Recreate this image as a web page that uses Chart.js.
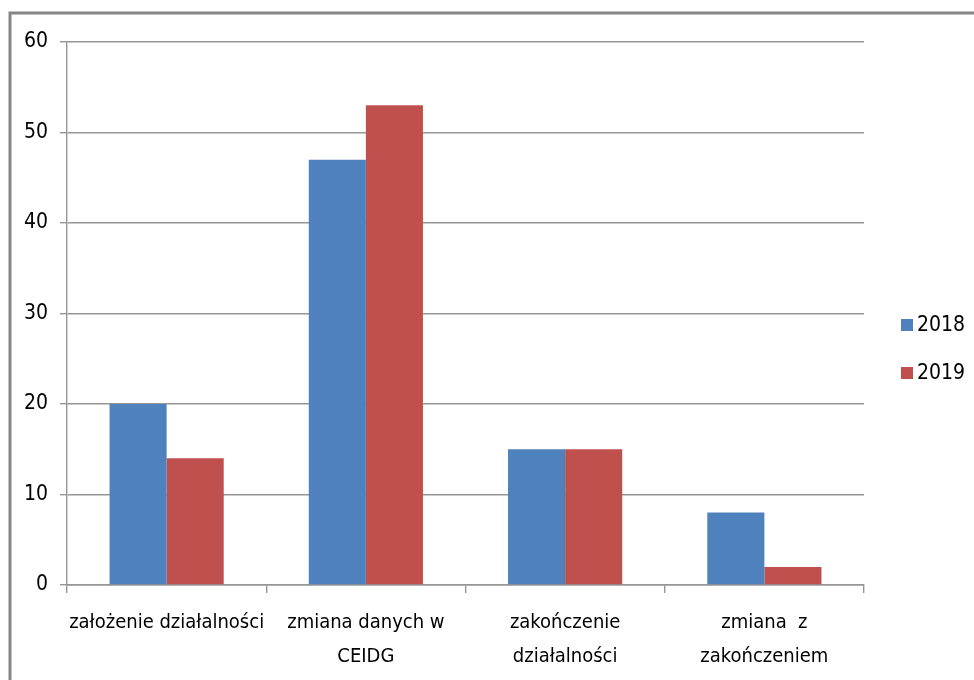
<!DOCTYPE html>
<html>
<head>
<meta charset="utf-8">
<script src="https://cdn.jsdelivr.net/npm/chart.js@4"></script>
<style>
  html, body { margin: 0; padding: 0; background: #fff; }
  #wrap { width: 974px; height: 680px; position: relative; }
</style>
</head>
<body>
<div id="wrap"><canvas id="chart"></canvas></div>
<script>
'use strict';

// data
var categories = [
  'założenie działalności',
  ['zmiana danych w', 'CEIDG'],
  ['zakończenie', 'działalności'],
  ['zmiana  z', 'zakończeniem']
];
var seriesNames = ['2018', '2019'];
var values2018 = [20, 47, 15, 8];
var values2019 = [14, 53, 15, 2];
var yTicks = [0, 10, 20, 30, 40, 50, 60];

var FONT = "'DejaVu Sans Condensed', 'DejaVu Sans', sans-serif";
var colors = ['#4F81BD', '#C0504D'];
var lineColor = '#969696';

// frame + legend drawn by hand, excel style
var framePlugin = {
  id: 'frame',
  afterDraw: function(chart) {
    var c = chart.ctx;
    c.save();
    c.strokeStyle = '#868686';
    c.lineWidth = 3;
    c.beginPath();
    c.moveTo(10, 690);
    c.lineTo(10, 13);
    c.lineTo(990, 13);
    c.stroke();

    c.font = '21px ' + FONT;
    c.textBaseline = 'middle';
    c.textAlign = 'left';
    chart.data.datasets.forEach(function(ds, i) {
      var y = 325 + i * 48;
      c.fillStyle = ds.backgroundColor;
      c.fillRect(901, y - 6, 12, 12);
      c.fillStyle = '#000';
      c.fillText(ds.label, 917, y + 1);
    });
    c.restore();
  }
};

const ctx = document.getElementById('chart');

window.barGraph = new Chart(ctx, {
  type: 'bar',
  plugins: [framePlugin],
  data: {
    labels: categories,
    datasets: [{
      label: seriesNames[0],
      data: values2018,
      backgroundColor: colors[0]
    }, {
      label: seriesNames[1],
      data: values2019,
      backgroundColor: colors[1]
    }]
  },
  options: {
    responsive: true,
    maintainAspectRatio: false,
    animation: false,
    layout: {
      padding: { left: 10, top: 42, right: 110, bottom: 0 }
    },
    plugins: {
      legend: { display: false },
      tooltip: { enabled: false }
    },
    datasets: {
      bar: { categoryPercentage: 0.573, barPercentage: 1.0 }
    },
    scales: {
      x: {
        afterFit: function(scale) { scale.height = 95; },
        ticks: {
          color: '#000',
          font: { size: 20, family: FONT, lineHeight: 1.7 },
          padding: 13,
          maxRotation: 0,
          autoSkip: false
        },
        grid: {
          drawOnChartArea: false,
          drawTicks: true,
          tickLength: 8,
          color: lineColor,
          lineWidth: 1.4
        },
        border: { color: lineColor, width: 1.4 }
      },
      y: {
        min: 0,
        max: 60,
        afterFit: function(scale) { scale.width = 57; },
        afterBuildTicks: function(scale) {
          scale.ticks = yTicks.map(function(v) { return { value: v }; });
        },
        ticks: {
          color: '#000',
          font: { size: 21, family: FONT },
          padding: 12
        },
        grid: {
          color: lineColor,
          lineWidth: 1.4,
          tickLength: 7
        },
        border: { color: lineColor, width: 1.4 }
      }
    }
  }
});
</script>
</body>
</html>
